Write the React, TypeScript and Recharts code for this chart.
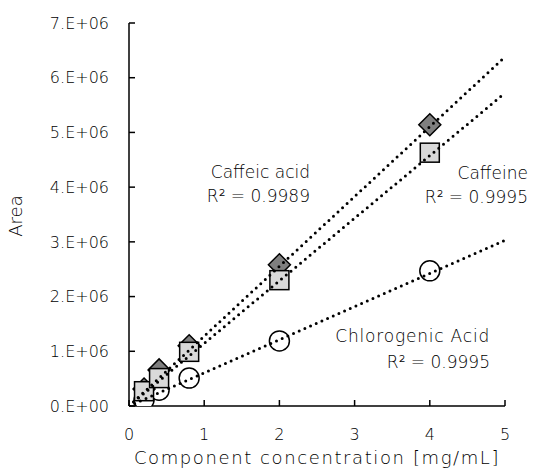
import { ComposedChart, Scatter, XAxis, YAxis, Customized } from 'recharts';

// measured points (x in mg/mL, y = peak area)
const caffeicAcid = [
  { x: 0.2, y: 310000 },
  { x: 0.4, y: 660000 },
  { x: 0.8, y: 1100000 },
  { x: 2, y: 2580000 },
  { x: 4, y: 5140000 },
];

const caffeine = [
  { x: 0.2, y: 270000 },
  { x: 0.4, y: 510000 },
  { x: 0.8, y: 990000 },
  { x: 2, y: 2300000 },
  { x: 4, y: 4630000 },
];

const chlorogenicAcid = [
  { x: 0.2, y: 110000 },
  { x: 0.4, y: 290000 },
  { x: 0.8, y: 510000 },
  { x: 2, y: 1190000 },
  { x: 4, y: 2470000 },
];

// linear trendline endpoints
const caffeicTrend = [
  { x: 0, y: 0 },
  { x: 5, y: 6380000 },
];
const caffeineTrend = [
  { x: 0, y: 0 },
  { x: 5, y: 5720000 },
];
const chlorogenicTrend = [
  { x: 0, y: 0 },
  { x: 5, y: 3030000 },
];

const xTicks = [0, 1, 2, 3, 4, 5];
const yTicks = [0, 1000000, 2000000, 3000000, 4000000, 5000000, 6000000, 7000000];

const FONT = '"DejaVu Sans", sans-serif';
const TXT = '#000';

const fmtY = (v: number) => (v === 0 ? '0.E+00' : `${v / 1000000}.E+06`);

const Diamond = (props: any) => {
  const { cx, cy } = props;
  const r = 11;
  return (
    <polygon
      points={`${cx},${cy - r} ${cx + r},${cy} ${cx},${cy + r} ${cx - r},${cy}`}
      fill="#7f7f7f"
      stroke="#000"
      strokeWidth={1.5}
    />
  );
};

const Square = (props: any) => {
  const { cx, cy } = props;
  const s = 9.5;
  return <rect x={cx - s} y={cy - s} width={s * 2} height={s * 2} fill="#d9d9d9" stroke="#000" strokeWidth={1.5} />;
};

const Circle = (props: any) => {
  const { cx, cy } = props;
  return <circle cx={cx} cy={cy} r={10} fill="#fff" stroke="#000" strokeWidth={1.5} />;
};

const NoDot = () => <g />;

const dotted = { stroke: '#000', strokeWidth: 3, strokeDasharray: '0 6.2', strokeLinecap: 'round' as const };

const Labels = () => (
  <g fontFamily={FONT} fontSize={17} fontWeight={200} fill={TXT}>
    <text x={310} y={178} textAnchor="end">Caffeic acid</text>
    <text x={310} y={202} textAnchor="end">R² = 0.9989</text>
    <text x={528} y={179} textAnchor="end">Caffeine</text>
    <text x={528} y={203} textAnchor="end">R² = 0.9995</text>
    <text x={490} y={342} textAnchor="end" letterSpacing={0.8}>Chlorogenic Acid</text>
    <text x={490} y={368} textAnchor="end">R² = 0.9995</text>
    <text x={22} y={216} textAnchor="middle" fontSize={18} transform="rotate(-90 22 216)">Area</text>
    <text x={317} y={464} textAnchor="middle" fontSize={18} letterSpacing={1.6}>
      Component concentration [mg/mL]
    </text>
  </g>
);

export default function App() {
  return (
    <div style={{ position: 'absolute', left: 0, top: 0, width: 535, height: 470, background: '#fff' }}>
      <ComposedChart width={535} height={470} margin={{ top: 23, right: 30, bottom: 0, left: 0 }}>
        <XAxis
          type="number"
          dataKey="x"
          domain={[0, 5]}
          ticks={xTicks}
          allowDataOverflow
          axisLine={{ stroke: '#000', strokeWidth: 1.5 }}
          tickLine={{ stroke: '#000', strokeWidth: 1.5 }}
          tickSize={-6}
          tickMargin={29}
          height={64}
          tick={{ fill: TXT, fontSize: 16, fontFamily: FONT, fontWeight: 200 }}
        />
        <YAxis
          type="number"
          dataKey="y"
          domain={[0, 7000000]}
          ticks={yTicks}
          allowDataOverflow
          tickFormatter={fmtY}
          axisLine={{ stroke: '#000', strokeWidth: 1.5 }}
          tickLine={{ stroke: '#000', strokeWidth: 1.5 }}
          tickSize={-6}
          tickMargin={26}
          width={129}
          tick={{ fill: TXT, fontSize: 16, fontFamily: FONT, fontWeight: 200 }}
        />
        <Scatter data={chlorogenicAcid} shape={Circle} isAnimationActive={false} />
        <Scatter data={caffeicAcid} shape={Diamond} isAnimationActive={false} />
        <Scatter data={caffeine} shape={Square} isAnimationActive={false} />
        <Scatter data={caffeicTrend} line={dotted} lineType="joint" shape={NoDot} isAnimationActive={false} />
        <Scatter data={caffeineTrend} line={dotted} lineType="joint" shape={NoDot} isAnimationActive={false} />
        <Scatter data={chlorogenicTrend} line={dotted} lineType="joint" shape={NoDot} isAnimationActive={false} />
        <Customized component={Labels} />
      </ComposedChart>
    </div>
  );
}
